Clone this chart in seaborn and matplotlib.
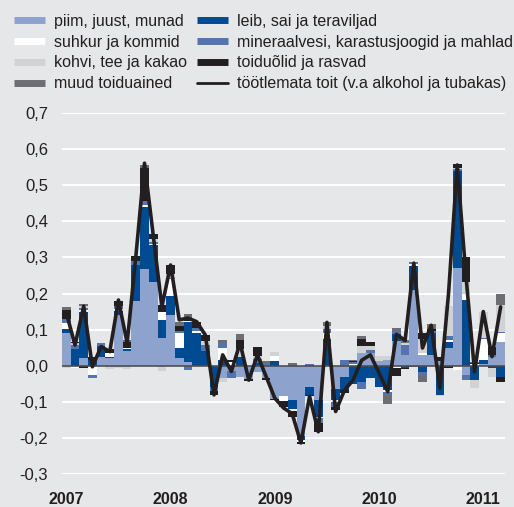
import numpy as np
import pandas as pd
import matplotlib
matplotlib.use("Agg")
import matplotlib.pyplot as plt
from matplotlib.lines import Line2D
import seaborn as sns

# ---- data (monthly, Jan 2007 .. Mar 2011) ----
months = pd.date_range("2007-01-01", periods=51, freq="MS")
year_labels = ["2007", "2008", "2009", "2010", "2011"]
y_ticks = [0.7, 0.6, 0.5, 0.4, 0.3, 0.2, 0.1, 0.0, -0.1, -0.2, -0.3]
y_tick_labels = ["0,7", "0,6", "0,5", "0,4", "0,3", "0,2", "0,1", "0,0", "-0,1", "-0,2", "-0,3"]

piim = [0.09, 0.0, 0.02, 0.0, 0.025, 0.02, 0.14, 0.04, 0.18, 0.268, 0.233, 0.076,
        0.14, 0.02, 0.01, 0.0, 0.0, 0.0, -0.035, -0.015, -0.03, -0.038, -0.018, -0.035,
        -0.093, -0.085, -0.095, -0.195, -0.06, -0.095, 0.0, -0.065, -0.03, 0.0, 0.035, 0.035,
        0.013, 0.015, 0.068, 0.03, 0.21, 0.03, 0.03, 0.012, 0.048, 0.27, -0.026, 0.0,
        0.005, 0.025, 0.066]
leib = [0.012, 0.045, 0.13, 0.015, 0.03, 0.005, 0.012, 0.007, 0.10, 0.172, 0.10, 0.05,
        0.053, 0.03, 0.11, 0.09, 0.04, -0.06, 0.016, 0.0, 0.025, 0.0, 0.008, 0.0,
        0.013, 0.0, -0.026, -0.01, -0.02, -0.046, 0.075, -0.03, -0.037, -0.05, -0.045, -0.035,
        -0.06, -0.067, 0.02, -0.005, 0.065, -0.017, 0.06, -0.08, 0.018, 0.268, 0.182, -0.04,
        0.012, -0.005, -0.03]
suhkur = [0.017, -0.005, 0.005, -0.025, 0.0, 0.01, 0.005, 0.003, 0.0, 0.005, 0.005, 0.023,
          0.048, 0.04, 0.005, 0.005, 0.0, 0.0, 0.032, 0.01, 0.0, 0.0, 0.0, 0.0,
          0.014, -0.012, -0.005, -0.005, 0.0, -0.005, 0.015, -0.005, 0.0, 0.005, 0.0, 0.0,
          0.0, -0.007, -0.007, 0.0, 0.006, 0.005, 0.0, 0.0, 0.005, -0.013, 0.016, 0.005,
          0.057, 0.0, 0.025]
mineraal = [0.011, 0.012, 0.005, -0.008, 0.007, 0.0, 0.008, 0.0, 0.01, 0.01, 0.005, 0.0,
            0.003, 0.005, -0.012, 0.009, 0.017, -0.01, 0.016, -0.018, 0.0, 0.0, 0.01, 0.008,
            0.0, 0.0, 0.0, 0.0, 0.005, -0.012, 0.012, -0.015, 0.016, 0.004, -0.02, 0.008,
            0.0, -0.007, 0.005, 0.028, 0.005, -0.012, 0.005, 0.0, 0.011, 0.006, -0.014, 0.0,
            0.003, 0.004, 0.003]
kohvi = [-0.007, 0.005, 0.005, 0.0, 0.0, -0.008, -0.005, -0.008, 0.0, 0.0, 0.009, -0.014,
         0.01, 0.0, 0.0, 0.0, 0.012, 0.0, -0.01, 0.0, 0.02, 0.0, 0.01, 0.0,
         0.011, 0.0, 0.0, 0.0, 0.0, 0.0, 0.008, 0.0, 0.0, 0.0, 0.02, 0.012,
         0.014, 0.012, 0.0, 0.006, 0.0, 0.04, 0.0, -0.005, 0.082, 0.003, 0.035, -0.022,
         0.072, -0.025, 0.074]
oli = [0.025, 0.005, -0.005, 0.01, 0.0, 0.01, 0.015, 0.015, 0.015, 0.093, 0.014, 0.018,
       0.025, 0.015, 0.007, 0.016, 0.017, -0.012, 0.0, 0.005, 0.025, -0.003, 0.025, -0.005,
       -0.003, -0.018, -0.015, -0.008, -0.005, -0.025, 0.0, -0.008, -0.01, 0.003, 0.02, 0.012,
       0.0, 0.0, -0.022, -0.003, 0.0, 0.015, 0.008, 0.013, -0.007, 0.013, 0.068, 0.003,
       0.0, 0.023, -0.016]
muud = [0.007, 0.0, 0.005, 0.0, 0.0, 0.0, 0.0, 0.007, 0.0, 0.007, 0.0, 0.0,
        0.0, 0.01, 0.01, 0.0, 0.0, 0.0, 0.007, 0.0, 0.017, 0.0, 0.0, 0.005,
        0.0, 0.0, 0.007, 0.0, 0.0, 0.0, 0.012, 0.0, 0.0, 0.003, 0.007, 0.0,
        0.0, -0.025, 0.012, 0.006, -0.004, -0.015, 0.012, 0.0, 0.0, 0.0, 0.0, 0.003,
        0.0, 0.0, 0.032]
total = [0.146, 0.057, 0.165, -0.003, 0.053, 0.039, 0.182, 0.063, 0.302, 0.561, 0.362, 0.163,
         0.279, 0.127, 0.132, 0.122, 0.085, -0.081, 0.030, -0.016, 0.063, -0.040, 0.030, -0.030,
         -0.090, -0.117, -0.133, -0.214, -0.085, -0.183, 0.120, -0.127, -0.069, -0.040, 0.015, 0.030,
         -0.020, -0.072, 0.087, 0.070, 0.284, 0.049, 0.112, -0.062, 0.20, 0.556, 0.25, -0.017,
         0.150, 0.025, 0.163]

names = {
    "piim": "piim, juust, munad",
    "leib": "leib, sai ja teraviljad",
    "suhkur": "suhkur ja kommid",
    "mineraal": "mineraalvesi, karastusjoogid ja mahlad",
    "kohvi": "kohvi, tee ja kakao",
    "oli": "toiduõlid ja rasvad",
    "muud": "muud toiduained",
    "total": "töötlemata toit (v.a alkohol ja tubakas)",
}
colors = {
    "piim": "#8DA2CC",
    "leib": "#004A92",
    "suhkur": "#FFFFFF",
    "mineraal": "#5573AD",
    "kohvi": "#D1D2D4",
    "oli": "#231F20",
    "muud": "#6D6E71",
}
stack = [("piim", piim), ("leib", leib), ("suhkur", suhkur), ("mineraal", mineraal),
         ("kohvi", kohvi), ("oli", oli), ("muud", muud)]

BG = "#E6E7E8"
TXT = "#231F20"

sns.set_theme(style="whitegrid")
plt.rcParams["font.family"] = ["Liberation Sans", "DejaVu Sans"]

fig = plt.figure(figsize=(5.14, 5.07), dpi=100, facecolor=BG)
ax = fig.add_axes([62 / 514, 33 / 507, 443 / 514, 361 / 507])
ax.set_facecolor(BG)

x = np.arange(len(months))
pos_b = np.zeros(len(x))
neg_b = np.zeros(len(x))
for key, vals in stack:
    v = np.asarray(vals, dtype=float)
    p = np.where(v > 0, v, 0.0)
    n = np.where(v < 0, v, 0.0)
    ax.bar(x, p, bottom=pos_b, width=1.0, color=colors[key], linewidth=0, zorder=2)
    ax.bar(x, n, bottom=neg_b, width=1.0, color=colors[key], linewidth=0, zorder=2)
    pos_b += p
    neg_b += n

ax.axhline(0, color="#4D4D4F", lw=1.2, zorder=3)
sns.lineplot(x=x, y=total, ax=ax, color=TXT, lw=2.6, zorder=4, legend=False)

ax.set_xlim(-0.5, len(x) - 0.5)
ax.set_ylim(-0.3, 0.7)
ax.set_yticks(y_ticks)
ax.set_yticklabels(y_tick_labels)
ax.set_xticks([i for i, m in enumerate(months) if m.month == 1])
ax.set_xticklabels(year_labels, fontweight="bold")
ax.set_xlabel("")
ax.set_ylabel("")
ax.yaxis.grid(True, color="white", lw=1.4, zorder=0)
ax.xaxis.grid(False)
ax.set_axisbelow(True)
for s in ax.spines.values():
    s.set_visible(False)
ax.tick_params(axis="y", length=0, pad=10, labelsize=12, labelcolor=TXT)
ax.tick_params(axis="x", length=0, pad=13, labelsize=11.5, labelcolor=TXT)

order = ["piim", "suhkur", "kohvi", "muud", "leib", "mineraal", "oli"]
handles = [Line2D([0], [0], color=colors[k], lw=5, solid_capstyle="butt") for k in order]
labels = [names[k] for k in order]
handles.append(Line2D([0], [0], color=TXT, lw=2))
labels.append(names["total"])
leg = fig.legend(handles, labels, loc="upper left", bbox_to_anchor=(14 / 514, 1 - 14 / 507),
                 ncol=2, frameon=False, fontsize=11.5, handlelength=1.95, handletextpad=0.55,
                 columnspacing=0.62, labelspacing=0.36, borderpad=0, borderaxespad=0)
for t in leg.get_texts():
    t.set_color(TXT)

fig.savefig("out.png", dpi=100, facecolor=BG)
